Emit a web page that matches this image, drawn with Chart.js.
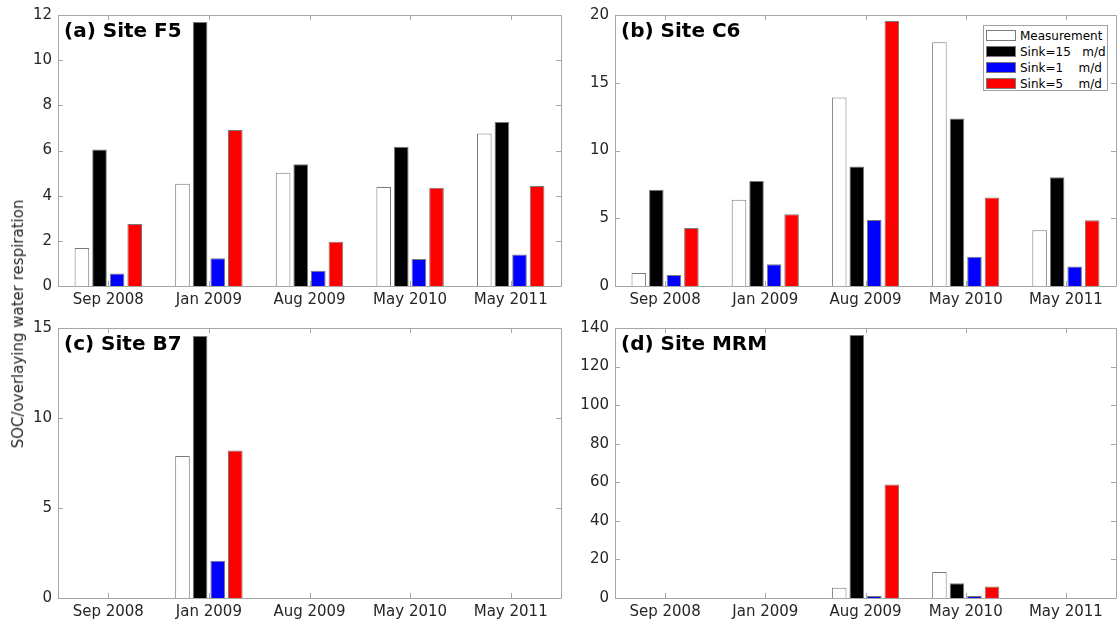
<!DOCTYPE html>
<html>
<head>
<meta charset="utf-8">
<script src="https://cdn.jsdelivr.net/npm/chart.js@4/dist/chart.umd.min.js"></script>
<style>
  html, body { margin: 0; padding: 0; background: #fff; }
  #wrap { position: relative; width: 1120px; height: 626px; overflow: hidden; font-family: "DejaVu Sans", sans-serif; }
  canvas { position: absolute; }
  .ttl { position: absolute; font: bold 20px "DejaVu Sans", sans-serif; color: #000; line-height: 24px; white-space: pre; }
  #ylab { position: absolute; font: 15px "DejaVu Sans", sans-serif; color: #262626; white-space: pre; transform: translate(-50%, -50%) rotate(-90deg); left: 18px; top: 324px; }
  #legend { position: absolute; left: 983px; top: 25px; width: 125px; height: 66px; border: 1px solid #a0a0a0; background: #fff; box-sizing: border-box; }
  .lrow { position: absolute; left: 2px; height: 14px; font: 12px "DejaVu Sans", sans-serif; color: #000; white-space: pre; line-height: 14px; }
  .sw { position: absolute; left: 0; top: 1px; width: 30px; height: 11px; box-sizing: border-box; border: 1px solid #7a7a7a; }
  .lt { position: absolute; left: 34px; top: 0; }
</style>
</head>
<body>
<div id="wrap">
  <canvas id="ca" width="566" height="313" style="left:0;top:0;"></canvas>
  <canvas id="cb" width="560" height="313" style="left:560px;top:0;"></canvas>
  <canvas id="cc" width="566" height="313" style="left:0;top:313px;"></canvas>
  <canvas id="cd" width="560" height="313" style="left:560px;top:313px;"></canvas>
  <div class="ttl" style="left:64px;top:18px;">(a) Site F5</div>
  <div class="ttl" style="left:621px;top:18px;">(b) Site C6</div>
  <div class="ttl" style="left:64px;top:331px;">(c) Site B7</div>
  <div class="ttl" style="left:621px;top:331px;">(d) Site MRM</div>
  <div id="ylab">SOC/overlaying water respiration</div>
  <div id="legend"></div>
</div>
<script>
// ---- data ----
const categories = ["Sep 2008", "Jan 2009", "Aug 2009", "May 2010", "May 2011"];
const seriesNames = ["Measurement", "Sink=15   m/d", "Sink=1    m/d", "Sink=5    m/d"];
const seriesColors = ["#ffffff", "#000000", "#0000ff", "#ff0000"];

// (a) Site F5
const f5Measurement = [1.68, 4.53, 5.02, 4.38, 6.75];
const f5Sink15      = [6.04, 11.69, 5.39, 6.17, 7.26];
const f5Sink1       = [0.55, 1.23, 0.68, 1.20, 1.39];
const f5Sink5       = [2.75, 6.91, 1.96, 4.35, 4.43];
const f5Ticks = [0, 2, 4, 6, 8, 10, 12];

// (b) Site C6
const c6Measurement = [0.96, 6.37, 13.92, 17.98, 4.11];
const c6Sink15      = [7.11, 7.75, 8.81, 12.37, 8.02];
const c6Sink1       = [0.81, 1.60, 4.87, 2.16, 1.43];
const c6Sink5       = [4.28, 5.29, 19.56, 6.54, 4.85];
const c6Ticks = [0, 5, 10, 15, 20];

// (c) Site B7
const b7Measurement = [null, 7.89, null, null, null];
const b7Sink15      = [null, 14.56, null, null, null];
const b7Sink1       = [null, 2.07, null, null, null];
const b7Sink5       = [null, 8.19, null, null, null];
const b7Ticks = [0, 5, 10, 15];

// (d) Site MRM
const mrmMeasurement = [null, null, 5.36, 13.5, null];
const mrmSink15      = [null, null, 136.4, 7.6, null];
const mrmSink1       = [null, null, 1.04, 1.0, null];
const mrmSink5       = [null, null, 58.9, 5.9, null];
const mrmTicks = [0, 20, 40, 60, 80, 100, 120, 140];

// ---- legend ----
const legendEl = document.getElementById('legend');
seriesNames.forEach((n, i) => {
  const row = document.createElement('div');
  row.className = 'lrow';
  row.style.top = (3 + i * 16) + 'px';
  const sw = document.createElement('div');
  sw.className = 'sw';
  sw.style.background = seriesColors[i];
  const t = document.createElement('div');
  t.className = 'lt';
  t.textContent = n;
  row.appendChild(sw); row.appendChild(t);
  legendEl.appendChild(row);
});

// ---- box + inward ticks plugin ----
const boxPlugin = {
  id: 'boxTicks',
  afterDraw(chart) {
    const ctx = chart.ctx, a = chart.chartArea;
    const xs = chart.scales.x, ys = chart.scales.y;
    const L = 5;
    ctx.save();
    ctx.strokeStyle = '#a6a6a6';
    ctx.lineWidth = 1;
    ctx.beginPath();
    ctx.rect(Math.round(a.left) + 0.5, Math.round(a.top) + 0.5, Math.round(a.right - a.left), Math.round(a.bottom - a.top));
    xs.ticks.forEach((t, i) => {
      const x = Math.round(xs.getPixelForTick(i)) + 0.5;
      ctx.moveTo(x, a.bottom); ctx.lineTo(x, a.bottom - L);
      ctx.moveTo(x, a.top); ctx.lineTo(x, a.top + L);
    });
    ys.ticks.forEach((t) => {
      const y = Math.round(ys.getPixelForValue(t.value)) + 0.5;
      ctx.moveTo(a.left, y); ctx.lineTo(a.left + L, y);
      ctx.moveTo(a.right, y); ctx.lineTo(a.right - L, y);
    });
    ctx.stroke();
    ctx.restore();
  }
};

function makeChart(id, vals, ticks, yWidth, xHeight, padRight) {
  const ymax = ticks[ticks.length - 1];
  const step = ticks[1] - ticks[0];
  return new Chart(document.getElementById(id), {
    type: 'bar',
    data: {
      labels: categories,
      datasets: vals.map((v, i) => ({
        label: seriesNames[i],
        data: v,
        backgroundColor: seriesColors[i],
        borderColor: '#7a7a7a',
        borderWidth: 1,
        borderSkipped: 'bottom',
        barPercentage: 0.83,
        categoryPercentage: 0.70
      }))
    },
    options: {
      responsive: false,
      animation: false,
      layout: { padding: { top: 15, right: padRight, left: 0, bottom: 0 } },
      plugins: { legend: { display: false }, tooltip: { enabled: false } },
      scales: {
        x: {
          grid: { display: false, drawTicks: false },
          border: { display: false },
          ticks: { color: '#262626', font: { family: 'DejaVu Sans', size: 15 }, padding: 5, maxRotation: 0, autoSkip: false },
          afterFit(s) { s.height = xHeight; }
        },
        y: {
          min: 0, max: ymax,
          grid: { display: false, drawTicks: false },
          border: { display: false },
          ticks: { stepSize: step, color: '#262626', font: { family: 'DejaVu Sans', size: 15 }, padding: 6 },
          afterFit(s) { s.width = yWidth; }
        }
      }
    },
    plugins: [boxPlugin]
  });
}

makeChart('ca', [f5Measurement, f5Sink15, f5Sink1, f5Sink5], f5Ticks, 58, 27, 5);
makeChart('cb', [c6Measurement, c6Sink15, c6Sink1, c6Sink5], c6Ticks, 55, 27, 4);
makeChart('cc', [b7Measurement, b7Sink15, b7Sink1, b7Sink5], b7Ticks, 58, 28, 5);
makeChart('cd', [mrmMeasurement, mrmSink15, mrmSink1, mrmSink5], mrmTicks, 55, 28, 4);
</script>
</body>
</html>
